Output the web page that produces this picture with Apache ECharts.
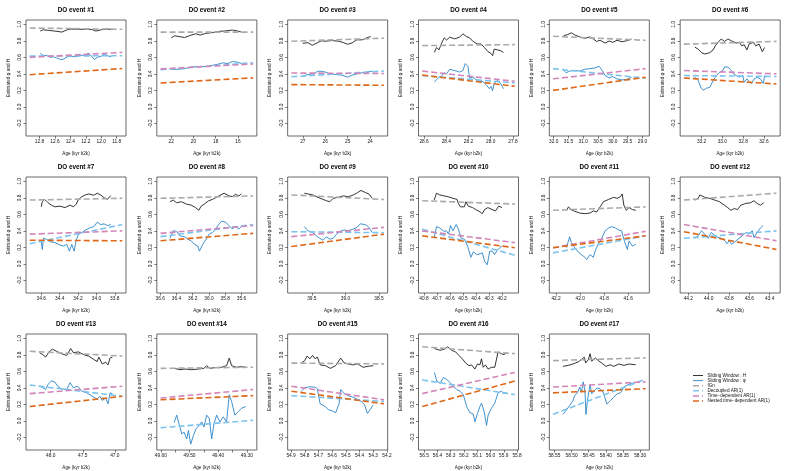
<!DOCTYPE html>
<html><head><meta charset="utf-8">
<script src="https://cdn.jsdelivr.net/npm/echarts@6/dist/echarts.min.js"></script>
<style>html,body{margin:0;padding:0;background:#fff}#c{width:785px;height:471px}</style>
</head><body><div id="c"></div>
<script>
// ---------------- DATA ----------------
const panelTitles = ['DO event #1','DO event #2','DO event #3','DO event #4','DO event #5','DO event #6',
  'DO event #7','DO event #8','DO event #9','DO event #10','DO event #11','DO event #12',
  'DO event #13','DO event #14','DO event #15','DO event #16','DO event #17'];
// age span of each analysed interval [older, younger] (kyr b2k)
const ageSpan = [[12.927,11.727],[22.96,14.64],[27.51,23.38],[28.617,27.783],[32.02,28.89],[33.37,32.48],
  [34.726,33.718],[36.595,35.456],[39.805,38.426],[40.814,40.102],[42.225,41.456],[44.244,43.333],
  [48.328,46.883],[49.601,49.278],[54.898,54.222],[56.515,55.817],[58.554,58.284]];
const xTicks = [[12.8,12.6,12.4,12.2,12.0,11.8],[22,20,18,16],[27,26,25,24],[28.6,28.4,28.2,28.0,27.8],
  [32.0,31.5,31.0,30.5,30.0,29.5,29.0],[33.2,33.0,32.8,32.6],[34.6,34.4,34.2,34.0,33.8],
  [36.6,36.4,36.2,36.0,35.8,35.6],[39.5,39.0,38.5],[40.8,40.7,40.6,40.5,40.4,40.3,40.2],
  [42.2,42.0,41.8,41.6],[44.2,44.0,43.8,43.6,43.4],[48.0,47.5,47.0],
  [49.60,49.55,49.50,49.45,49.40,49.35,49.30],[54.9,54.8,54.7,54.6,54.5,54.4,54.3,54.2],
  [56.5,56.4,56.3,56.2,56.1,56.0,55.9,55.8],[58.55,58.50,58.45,58.40,58.35,58.30]];
const xLabels = [['12.8','12.6','12.4','12.2','12.0','11.8'],['22','20','18','16'],['27','26','25','24'],
  ['28.6','28.4','28.2','28.0','27.8'],['32.0','31.5','31.0','30.5','30.0','29.5','29.0'],
  ['33.2','33.0','32.8','32.6'],['34.6','34.4','34.2','34.0','33.8'],['36.6','36.4','36.2','36.0','35.8','35.6'],
  ['39.5','39.0','38.5'],['40.8','40.7','40.6','40.5','40.4','40.3','40.2'],['42.2','42.0','41.8','41.6'],
  ['44.2','44.0','43.8','43.6','43.4'],['48.0','47.5','47.0'],['49.60','49.50','49.40','49.30'],
  ['54.9','54.8','54.7','54.6','54.5','54.4','54.3','54.2'],['56.5','56.4','56.3','56.2','56.1','56.0','55.9','55.8'],
  ['58.55','58.50','58.45','58.40','58.35','58.30']];
const yLim = [-0.3, 1.0];
const yTicks = [-0.2, 0.0, 0.2, 0.4, 0.6, 0.8, 1.0];
const yLabels = ['-0.2','0.0','0.2','0.4','0.6','0.8','1.0'];
const xAxisTitle = 'Age (kyr b2k)';
const yAxisTitle = 'Estimated φ and H';
const seriesNames = ['Sliding Window : H','Sliding Window : φ','fGn','Decoupled AR(1)','Time−dependent AR(1)','Nested time−dependent AR(1)'];

// straight fitted lines: [value at older end, value at younger end]
const fgnH = [[0.955,0.94],[0.905,0.905],[0.795,0.832],[0.742,0.754],[0.855,0.806],[0.76,0.793],
  [0.773,0.794],[0.794,0.823],[0.835,0.78],[0.765,0.724],[0.65,0.69],[0.773,0.856],
  [0.843,0.785],[0.636,0.65],[0.70,0.69],[0.897,0.814],[0.73,0.763]];
const decoupledAR1 = [[0.615,0.62],[0.45,0.535],[0.365,0.434],[0.38,0.29],[0.463,0.347],[0.38,0.368],
  [0.245,0.476],[0.33,0.477],[0.39,0.378],[0.42,0.105],[0.134,0.34],[0.31,0.40],
  [0.434,0.298],[-0.083,0.008],[0.306,0.236],[0.496,0.318],[0.08,0.506]];
const timeDepAR1 = [[0.60,0.66],[0.46,0.52],[0.41,0.405],[0.434,0.31],[0.34,0.463],[0.44,0.40],
  [0.36,0.40],[0.37,0.465],[0.33,0.443],[0.40,0.258],[0.196,0.394],[0.477,0.28],
  [0.33,0.42],[0.277,0.38],[0.42,0.256],[0.33,0.587],[0.41,0.473]];
const nestedAR1 = [[0.39,0.465],[0.29,0.352],[0.27,0.262],[0.385,0.25],[0.2,0.36],[0.35,0.277],
  [0.287,0.28],[0.28,0.37],[0.21,0.36],[0.34,0.196],[0.196,0.34],[0.39,0.175],
  [0.174,0.298],[0.256,0.306],[0.36,0.207],[0.174,0.483],[0.34,0.39]];

// sliding window estimates [age, value]
const swH = [
 [[12.79,0.918],[12.75,0.934],[12.68,0.926],[12.6,0.918],[12.51,0.906],[12.44,0.934],[12.38,0.943],[12.27,0.938],[12.18,0.943],[12.11,0.934],[12.07,0.918],[12.0,0.934],[11.92,0.943],[11.87,0.938]],
 [[22.0,0.836],[21.7,0.86],[21.2,0.85],[20.8,0.84],[20.3,0.865],[19.8,0.885],[19.4,0.87],[18.9,0.89],[18.3,0.90],[17.7,0.914],[17.1,0.92],[16.5,0.93],[16.0,0.918],[15.7,0.906]],
 [[27.0,0.77],[26.77,0.778],[26.58,0.746],[26.4,0.77],[26.17,0.80],[26.0,0.795],[25.7,0.803],[25.4,0.795],[25.2,0.78],[25.0,0.758],[24.8,0.775],[24.6,0.812],[24.35,0.812],[24.15,0.836],[23.97,0.852]],
 [[28.508,0.66],[28.487,0.72],[28.466,0.69],[28.443,0.77],[28.419,0.836],[28.398,0.81],[28.369,0.844],[28.324,0.824],[28.28,0.844],[28.25,0.885],[28.22,0.852],[28.19,0.836],[28.161,0.795],[28.122,0.762],[28.087,0.762],[28.057,0.72],[28.027,0.672],[27.998,0.648],[27.983,0.62],[27.968,0.70],[27.938,0.69],[27.909,0.68],[27.885,0.66]],
 [[31.656,0.864],[31.519,0.876],[31.404,0.897],[31.29,0.872],[31.118,0.847],[30.946,0.83],[30.774,0.847],[30.66,0.822],[30.545,0.793],[30.431,0.806],[30.259,0.773],[30.121,0.798],[30.007,0.781],[29.858,0.806],[29.686,0.789],[29.514,0.802],[29.365,0.822]],
 [[33.263,0.723],[33.232,0.698],[33.2,0.657],[33.168,0.64],[33.121,0.657],[33.089,0.69],[33.067,0.74],[33.042,0.781],[33.011,0.822],[32.979,0.793],[32.947,0.822],[32.91,0.798],[32.868,0.773],[32.837,0.781],[32.815,0.74],[32.79,0.752],[32.764,0.69],[32.742,0.764],[32.701,0.781],[32.679,0.74],[32.647,0.76],[32.616,0.669],[32.594,0.719]],
 [[34.6,0.691],[34.589,0.753],[34.563,0.781],[34.526,0.74],[34.489,0.711],[34.452,0.691],[34.397,0.699],[34.342,0.682],[34.286,0.711],[34.249,0.691],[34.22,0.724],[34.194,0.781],[34.157,0.814],[34.12,0.835],[34.083,0.847],[34.028,0.831],[33.991,0.856],[33.954,0.835],[33.917,0.802],[33.88,0.781],[33.844,0.827]],
 [[36.479,0.753],[36.439,0.773],[36.398,0.74],[36.338,0.753],[36.277,0.724],[36.217,0.711],[36.165,0.682],[36.124,0.649],[36.096,0.699],[36.056,0.724],[36.003,0.765],[35.955,0.781],[35.894,0.814],[35.854,0.835],[35.814,0.856],[35.753,0.823],[35.713,0.814],[35.673,0.843],[35.632,0.823],[35.6,0.847]],
 [[39.611,0.856],[39.561,0.847],[39.485,0.835],[39.409,0.806],[39.333,0.781],[39.283,0.765],[39.232,0.753],[39.182,0.794],[39.106,0.806],[39.03,0.823],[38.955,0.814],[38.879,0.835],[38.818,0.864],[38.768,0.889],[38.702,0.864],[38.652,0.847],[38.601,0.794]],
 [[40.722,0.773],[40.704,0.856],[40.679,0.835],[40.646,0.823],[40.616,0.814],[40.578,0.794],[40.546,0.781],[40.536,0.732],[40.52,0.691],[40.49,0.691],[40.478,0.753],[40.46,0.699],[40.427,0.682],[40.402,0.658],[40.369,0.629],[40.352,0.608],[40.334,0.658],[40.309,0.682],[40.276,0.658],[40.251,0.641],[40.226,0.699],[40.2,0.682]],
 [[42.115,0.649],[42.096,0.691],[42.079,0.658],[42.045,0.637],[42.003,0.616],[41.961,0.608],[41.918,0.616],[41.89,0.641],[41.862,0.629],[41.834,0.691],[41.806,0.753],[41.763,0.781],[41.721,0.806],[41.693,0.794],[41.665,0.814],[41.651,0.847],[41.637,0.711],[41.617,0.649],[41.594,0.682],[41.566,0.658],[41.538,0.649]],
 [[44.135,0.773],[44.103,0.794],[44.087,0.835],[44.071,0.856],[44.039,0.806],[43.99,0.794],[43.942,0.773],[43.894,0.753],[43.845,0.711],[43.813,0.682],[43.781,0.649],[43.748,0.67],[43.716,0.658],[43.684,0.711],[43.635,0.732],[43.587,0.74],[43.555,0.765],[43.523,0.732],[43.49,0.711],[43.458,0.74]],
 [[48.175,0.826],[48.122,0.802],[48.079,0.773],[48.026,0.835],[47.974,0.868],[47.91,0.843],[47.831,0.814],[47.751,0.793],[47.688,0.876],[47.646,0.826],[47.566,0.835],[47.487,0.802],[47.407,0.785],[47.328,0.744],[47.275,0.719],[47.249,0.773],[47.196,0.69],[47.143,0.711],[47.106,0.678],[47.074,0.76],[47.037,0.773]],
 [[49.5536,0.636],[49.5328,0.62],[49.5154,0.628],[49.4922,0.62],[49.4691,0.628],[49.4494,0.636],[49.4401,0.669],[49.4285,0.636],[49.4111,0.645],[49.3879,0.649],[49.3706,0.669],[49.3613,0.76],[49.3532,0.669],[49.3358,0.649],[49.3184,0.657],[49.3034,0.649]],
 [[54.825,0.702],[54.8,0.731],[54.783,0.785],[54.763,0.752],[54.743,0.793],[54.725,0.752],[54.708,0.773],[54.688,0.678],[54.65,0.669],[54.613,0.636],[54.575,0.669],[54.538,0.76],[54.513,0.702],[54.483,0.69],[54.45,0.678],[54.413,0.69],[54.375,0.649],[54.338,0.661],[54.3,0.669]],
 [[56.423,0.876],[56.38,0.855],[56.348,0.868],[56.323,0.897],[56.293,0.855],[56.263,0.835],[56.238,0.793],[56.213,0.752],[56.188,0.702],[56.163,0.669],[56.143,0.678],[56.118,0.628],[56.098,0.69],[56.08,0.678],[56.068,0.752],[56.055,0.649],[56.038,0.678],[56.018,0.628],[55.993,0.649],[55.968,0.649],[55.943,0.835],[55.918,0.814],[55.898,0.802],[55.88,0.826]],
 [[58.525,0.66],[58.51,0.672],[58.496,0.689],[58.481,0.714],[58.471,0.743],[58.463,0.772],[58.459,0.701],[58.451,0.743],[58.446,0.813],[58.441,0.722],[58.431,0.763],[58.422,0.73],[58.412,0.701],[58.4,0.66],[58.387,0.68],[58.377,0.66],[58.362,0.689],[58.347,0.672],[58.333,0.689],[58.313,0.68]]
];
const swPhi = [
 [[12.79,0.648],[12.76,0.627],[12.7,0.62],[12.66,0.60],[12.62,0.607],[12.57,0.59],[12.53,0.574],[12.49,0.578],[12.44,0.607],[12.4,0.615],[12.33,0.607],[12.27,0.623],[12.2,0.627],[12.17,0.65],[12.14,0.63],[12.09,0.574],[12.05,0.60],[12.0,0.615],[11.96,0.64],[11.92,0.62],[11.87,0.607]],
 [[22.0,0.455],[21.4,0.455],[20.8,0.463],[20.2,0.483],[19.5,0.49],[18.9,0.487],[18.3,0.504],[17.8,0.516],[17.4,0.533],[16.9,0.525],[16.5,0.55],[16.0,0.54],[15.7,0.525]],
 [[27.0,0.373],[26.77,0.393],[26.55,0.385],[26.4,0.422],[26.24,0.434],[26.0,0.422],[25.8,0.40],[25.56,0.393],[25.26,0.385],[25.0,0.36],[24.8,0.385],[24.58,0.40],[24.35,0.414],[24.12,0.422],[23.9,0.434]],
 [[28.508,0.303],[28.487,0.33],[28.466,0.36],[28.443,0.372],[28.419,0.414],[28.398,0.40],[28.369,0.455],[28.324,0.44],[28.28,0.422],[28.25,0.44],[28.229,0.525],[28.205,0.49],[28.19,0.35],[28.161,0.36],[28.131,0.33],[28.101,0.303],[28.072,0.31],[28.042,0.27],[28.012,0.22],[27.998,0.25],[27.983,0.197],[27.968,0.29],[27.938,0.32],[27.909,0.28],[27.885,0.22]],
 [[31.656,0.442],[31.576,0.413],[31.462,0.434],[31.29,0.442],[31.118,0.434],[30.946,0.455],[30.774,0.463],[30.603,0.471],[30.465,0.492],[30.374,0.45],[30.259,0.38],[30.121,0.351],[30.007,0.368],[29.858,0.339],[29.686,0.326],[29.514,0.335],[29.365,0.36]],
 [[33.263,0.36],[33.232,0.318],[33.206,0.236],[33.184,0.202],[33.153,0.227],[33.121,0.236],[33.089,0.318],[33.058,0.38],[33.026,0.421],[32.995,0.442],[32.979,0.483],[32.947,0.483],[32.916,0.442],[32.891,0.401],[32.868,0.38],[32.837,0.36],[32.805,0.38],[32.79,0.298],[32.764,0.339],[32.742,0.306],[32.72,0.285],[32.695,0.339],[32.663,0.36],[32.632,0.335],[32.606,0.285],[32.594,0.38]],
 [[34.6,0.27],[34.589,0.175],[34.575,0.311],[34.545,0.299],[34.508,0.27],[34.452,0.258],[34.397,0.229],[34.36,0.216],[34.323,0.237],[34.294,0.155],[34.268,0.237],[34.242,0.155],[34.22,0.287],[34.194,0.361],[34.157,0.381],[34.12,0.41],[34.072,0.435],[34.028,0.452],[33.991,0.505],[33.954,0.476],[33.917,0.485],[33.88,0.464],[33.844,0.476]],
 [[36.479,0.311],[36.439,0.402],[36.398,0.394],[36.358,0.34],[36.298,0.328],[36.257,0.299],[36.217,0.278],[36.177,0.237],[36.136,0.216],[36.116,0.155],[36.076,0.237],[36.035,0.299],[35.995,0.361],[35.955,0.381],[35.915,0.423],[35.874,0.485],[35.842,0.518],[35.794,0.505],[35.753,0.464],[35.713,0.423],[35.673,0.452],[35.632,0.423],[35.6,0.452]],
 [[39.611,0.452],[39.561,0.402],[39.485,0.381],[39.434,0.34],[39.384,0.311],[39.333,0.287],[39.283,0.328],[39.232,0.299],[39.182,0.311],[39.131,0.361],[39.081,0.394],[39.02,0.41],[38.955,0.402],[38.879,0.423],[38.828,0.443],[38.778,0.485],[38.753,0.505],[38.702,0.476],[38.652,0.443],[38.601,0.381]],
 [[40.722,0.311],[40.704,0.452],[40.679,0.435],[40.646,0.394],[40.629,0.402],[40.611,0.361],[40.596,0.464],[40.578,0.402],[40.553,0.476],[40.536,0.423],[40.515,0.311],[40.49,0.299],[40.465,0.216],[40.44,0.08],[40.42,0.146],[40.394,0.113],[40.369,0.122],[40.352,0.134],[40.334,0.031],[40.314,-0.01],[40.294,0.155],[40.276,0.155],[40.258,0.113],[40.238,0.163],[40.218,0.196],[40.2,0.216]],
 [[42.115,0.196],[42.101,0.258],[42.087,0.328],[42.073,0.258],[42.045,0.196],[42.017,0.146],[41.989,0.113],[41.961,0.08],[41.946,0.052],[41.918,0.113],[41.89,0.08],[41.876,0.155],[41.848,0.245],[41.82,0.311],[41.792,0.402],[41.763,0.435],[41.741,0.452],[41.707,0.435],[41.679,0.41],[41.656,0.402],[41.637,0.299],[41.608,0.175],[41.594,0.278],[41.566,0.216],[41.538,0.237]],
 [[44.135,0.311],[44.103,0.34],[44.071,0.402],[44.039,0.361],[44.006,0.311],[43.974,0.381],[43.926,0.328],[43.877,0.311],[43.845,0.287],[43.819,0.245],[43.797,0.287],[43.774,0.237],[43.732,0.278],[43.7,0.311],[43.668,0.34],[43.635,0.381],[43.603,0.361],[43.571,0.402],[43.555,0.32],[43.523,0.381],[43.49,0.435],[43.465,0.464]],
 [[48.175,0.421],[48.122,0.401],[48.079,0.38],[48.042,0.442],[47.989,0.483],[47.937,0.471],[47.884,0.413],[47.831,0.388],[47.751,0.38],[47.698,0.463],[47.646,0.401],[47.582,0.421],[47.513,0.36],[47.434,0.339],[47.354,0.298],[47.275,0.264],[47.233,0.298],[47.196,0.248],[47.143,0.277],[47.106,0.207],[47.074,0.339],[47.037,0.331]],
 [[49.5536,-0.02],[49.5444,0.07],[49.5351,-0.054],[49.527,-0.157],[49.5189,-0.136],[49.5096,-0.219],[49.5038,-0.116],[49.4957,-0.281],[49.4864,-0.178],[49.4772,-0.095],[49.4656,-0.054],[49.4575,-0.012],[49.4494,-0.074],[49.4401,0.07],[49.4308,0.029],[49.4227,-0.219],[49.4146,-0.033],[49.4053,0.07],[49.3937,-0.012],[49.3822,0.05],[49.3706,-0.012],[49.3613,0.318],[49.3532,0.236],[49.3416,0.07],[49.33,0.112],[49.3184,0.153],[49.3034,0.174]],
 [[54.825,0.36],[54.8,0.401],[54.763,0.413],[54.725,0.409],[54.708,0.388],[54.688,0.207],[54.65,0.174],[54.625,0.132],[54.6,0.124],[54.575,0.099],[54.55,0.207],[54.538,0.38],[54.513,0.331],[54.483,0.306],[54.45,0.289],[54.418,0.264],[54.388,0.236],[54.363,0.194],[54.343,0.091],[54.325,0.132],[54.3,0.194]],
 [[56.423,0.587],[56.405,0.483],[56.38,0.455],[56.355,0.525],[56.33,0.504],[56.305,0.463],[56.28,0.421],[56.255,0.38],[56.23,0.36],[56.205,0.318],[56.18,0.174],[56.155,0.099],[56.13,0.083],[56.118,-0.012],[56.098,0.091],[56.08,0.174],[56.068,0.215],[56.048,0.112],[56.03,-0.054],[56.018,0.07],[55.993,0.153],[55.968,0.215],[55.943,0.339],[55.918,0.36],[55.898,0.331],[55.88,0.347]],
 [[58.525,0.079],[58.515,0.133],[58.506,0.183],[58.496,0.245],[58.491,0.307],[58.483,0.34],[58.476,0.411],[58.471,0.349],[58.466,0.473],[58.461,0.369],[58.458,0.079],[58.453,0.266],[58.446,0.44],[58.441,0.328],[58.433,0.369],[58.426,0.398],[58.417,0.39],[58.407,0.34],[58.397,0.203],[58.387,0.245],[58.377,0.286],[58.367,0.328],[58.357,0.34],[58.347,0.411],[58.338,0.432],[58.328,0.452],[58.313,0.465]]
];

// ---------------- STYLE / LAYOUT ----------------
const FONT = '"Liberation Sans", Arial, Helvetica, sans-serif';
const colors = ['#1e1e1e', '#2b84c8', '#aaaaaa', '#7cc4ee', '#d285b8', '#dd6818'];
const widths = [0.9, 0.9, 1.6, 1.6, 1.6, 1.6];
const dashes = ['solid', 'solid', [6, 3], [6, 3], [6, 3], [6, 3]];
const colW = 785 / 6, rowH = 157, boxL = 26, boxW = 100, boxT = 20, boxH = 116;

const grids = [], xAxes = [], yAxes = [], series = [], graphics = [];
const yExt = (yLim[1] - yLim[0]) * 0.04;

for (let i = 0; i < 17; i++) {
  const col = i % 6, row = Math.floor(i / 6);
  const left = col * colW + boxL, top = row * rowH + boxT;
  grids.push({ left: left, top: top, width: boxW, height: boxH, show: true,
    borderColor: '#444', borderWidth: 0.8, backgroundColor: 'transparent', containLabel: false });
  const a = ageSpan[i][0], b = ageSpan[i][1], ext = (a - b) * 0.04;
  const labVals = xLabels[i].map(parseFloat);
  xAxes.push({ type: 'value', gridIndex: i, inverse: true, min: b - ext, max: a + ext, position: 'bottom',
    axisLine: { show: false, onZero: false }, splitLine: { show: false },
    axisTick: { show: true, length: 2.5, customValues: xTicks[i], lineStyle: { color: '#444', width: 0.7 } },
    axisLabel: { show: true, customValues: labVals, margin: 3, fontSize: 4.8, color: '#111', fontFamily: FONT,
      formatter: v => { const k = labVals.findIndex(t => Math.abs(t - v) < 1e-6); return k >= 0 ? xLabels[i][k] : ''; } },
    name: xAxisTitle, nameLocation: 'middle', nameGap: 15,
    nameTextStyle: { fontSize: 4.6, color: '#111', fontFamily: FONT } });
  yAxes.push({ type: 'value', gridIndex: i, min: yLim[0] - yExt, max: yLim[1] + yExt, position: 'left',
    axisLine: { show: false, onZero: false }, splitLine: { show: false },
    axisTick: { show: true, length: 2.5, customValues: yTicks, lineStyle: { color: '#444', width: 0.7 } },
    axisLabel: { show: true, customValues: yTicks, rotate: 90, margin: 3.5, fontSize: 4.8, color: '#111', fontFamily: FONT,
      formatter: v => { const k = yTicks.findIndex(t => Math.abs(t - v) < 1e-6); return k >= 0 ? yLabels[k] : ''; } },
    name: yAxisTitle, nameLocation: 'middle', nameGap: 15, nameRotate: 90,
    nameTextStyle: { fontSize: 4.6, color: '#111', fontFamily: FONT } });
  graphics.push({ type: 'text', silent: true,
    style: { x: left + boxW / 2, y: row * rowH + 10, text: panelTitles[i], textAlign: 'center', textVerticalAlign: 'middle',
      font: 'bold 6.3px ' + FONT, fill: '#000' } });

  const common = { xAxisIndex: i, yAxisIndex: i, type: 'line', symbol: 'none', animation: false, silent: true };
  series.push(Object.assign({}, common, { name: seriesNames[0], data: swH[i], color: colors[0], lineStyle: { color: colors[0], width: widths[0] } }));
  series.push(Object.assign({}, common, { name: seriesNames[1], data: swPhi[i], color: colors[1], lineStyle: { color: colors[1], width: widths[1] } }));
  const fits = [fgnH, decoupledAR1, timeDepAR1, nestedAR1];
  fits.forEach((f, k) => {
    series.push(Object.assign({}, common, { name: seriesNames[k + 2], data: [[a, f[i][0]], [b, f[i][1]]],
      color: colors[k + 2], lineStyle: { color: colors[k + 2], width: widths[k + 2], type: dashes[k + 2] } }));
  });
}

// legend drawn as graphic keys (line sample + text)
const legX = 693, legY = 375.5, legStep = 5.1;
seriesNames.forEach((nm, k) => {
  const y = legY + k * legStep;
  graphics.push({ type: 'line', silent: true,
    shape: { x1: legX, y1: y, x2: legX + 10, y2: y },
    style: { stroke: colors[k], lineWidth: k < 2 ? 0.9 : 1.5, lineDash: k < 2 ? null : [6, 3] } });
  graphics.push({ type: 'text', silent: true,
    style: { x: legX + 14.5, y: y, text: nm, textAlign: 'left', textVerticalAlign: 'middle',
      font: '4.6px ' + FONT, fill: '#111' } });
});

const chart = echarts.init(document.getElementById('c'), null, { renderer: 'canvas' });
chart.setOption({
  animation: false,
  backgroundColor: '#fff',
  grid: grids, xAxis: xAxes, yAxis: yAxes, series: series,
  graphic: graphics
});
</script></body></html>
